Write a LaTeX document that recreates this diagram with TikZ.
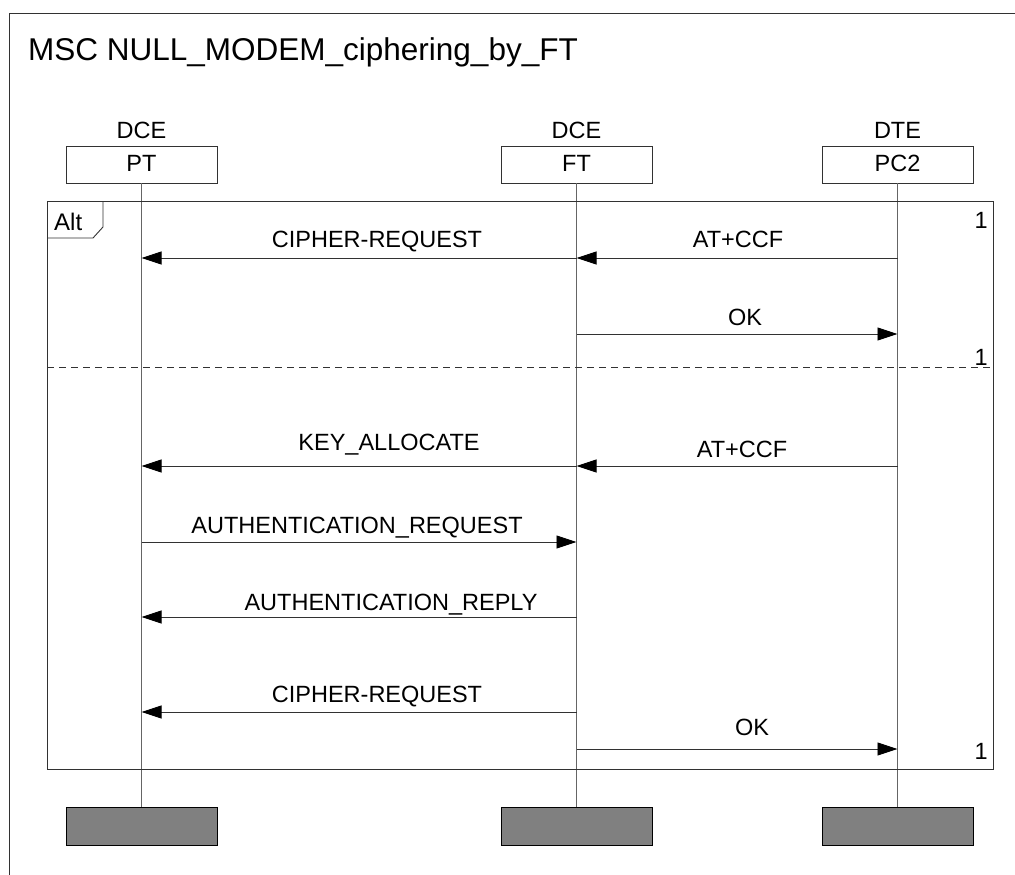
\documentclass[tikz,border=0pt]{standalone}
\usepackage{fontspec}
\setmainfont{Liberation Sans}
\usetikzlibrary{arrows.meta}
\definecolor{linegray}{RGB}{50,50,50}
\definecolor{endgray}{RGB}{128,128,128}
\begin{document}
\begin{tikzpicture}[x=1pt,y=-1pt,
  inst/.style={draw=linegray,line width=0.9pt,fill=white,minimum width=151pt,minimum height=37pt,inner sep=0pt},
  endbox/.style={draw=black,line width=1pt,fill=endgray,minimum width=151pt,minimum height=38pt,inner sep=0pt},
  lbl/.style={font=\fontsize{23.5}{27}\selectfont,anchor=base,inner sep=0pt},
  lifeline/.style={draw=linegray!75,line width=0.9pt},
  msg/.style={draw=linegray,line width=0.9pt,-{Triangle[length=20pt,width=13pt,fill=black,color=black]}},
  frame/.style={draw=linegray,line width=0.9pt}]
\useasboundingbox (0,0) rectangle (1015,875);
\clip (0,0) rectangle (1015,875);
\fill[white] (0,0) rectangle (1015,875);

% outer diagram frame and title
\draw[frame] (9,13) rectangle (1040,900);
\node[font=\fontsize{31.5}{36}\selectfont,anchor=base west,inner sep=0pt] (title) at (28,61) {MSC NULL\_MODEM\_ciphering\_by\_FT};

% instance heads
\node[inst] (PT)  at (141.5,164.5) {};
\node[inst] (FT)  at (576.5,164.5) {};
\node[inst] (PC)  at (897.5,164.5) {};
\node[lbl] (PTname) at (141.5,171) {PT};
\node[lbl] (FTname) at (576.5,171) {FT};
\node[lbl] (PCname) at (897.5,171) {PC2};
\node[lbl] (PTkind) at (141.5,138) {DCE};
\node[lbl] (FTkind) at (576.5,138) {DCE};
\node[lbl] (PCkind) at (897.5,138) {DTE};

% instance ends
\node[endbox] (PTend) at (141.5,826) {};
\node[endbox] (FTend) at (576.5,826) {};
\node[endbox] (PCend) at (897.5,826) {};

% lifelines
\draw[lifeline] (PT.south) -- (PTend.north);
\draw[lifeline] (FT.south) -- (FTend.north);
\draw[lifeline] (PC.south) -- (PCend.north);

% alt inline expression
\draw[frame] (47,201) rectangle (993,769);
\draw[frame] (47,238) -- (93,238) -- (103,227) -- (103,201);
\node[font=\fontsize{24}{28}\selectfont,anchor=base west,inner sep=0pt] (alt) at (54,230) {Alt};
\draw[frame,dash pattern=on 7pt off 5pt] (47,367) -- (993,367);
\node[lbl,anchor=base east] (one1) at (988,228) {1};
\node[lbl,anchor=base east] (one2) at (988,365) {1};
\node[lbl,anchor=base east] (one3) at (988,759) {1};

% first alternative
\draw[msg] (FT.south |- 0,258) -- (PT.south |- 0,258);
\node[lbl] (m1) at (377,247) {CIPHER-REQUEST};
\draw[msg] (PC.south |- 0,258) -- (FT.south |- 0,258);
\node[lbl] (m2) at (738,247) {AT+CCF};
\draw[msg] (FT.south |- 0,334) -- (PC.south |- 0,334);
\node[lbl] (m3) at (745,325) {OK};

% second alternative
\draw[msg] (FT.south |- 0,466) -- (PT.south |- 0,466);
\node[lbl] (m4) at (389,450) {KEY\_ALLOCATE};
\draw[msg] (PC.south |- 0,466) -- (FT.south |- 0,466);
\node[lbl] (m5) at (742,457) {AT+CCF};
\draw[msg] (PT.south |- 0,542) -- (FT.south |- 0,542);
\node[lbl] (m6) at (357,533) {AUTHENTICATION\_REQUEST};
\draw[msg] (FT.south |- 0,617) -- (PT.south |- 0,617);
\node[lbl] (m7) at (391,610) {AUTHENTICATION\_REPLY};
\draw[msg] (FT.south |- 0,712) -- (PT.south |- 0,712);
\node[lbl] (m8) at (377,702) {CIPHER-REQUEST};
\draw[msg] (FT.south |- 0,749) -- (PC.south |- 0,749);
\node[lbl] (m9) at (752,735) {OK};
\end{tikzpicture}
\end{document}
